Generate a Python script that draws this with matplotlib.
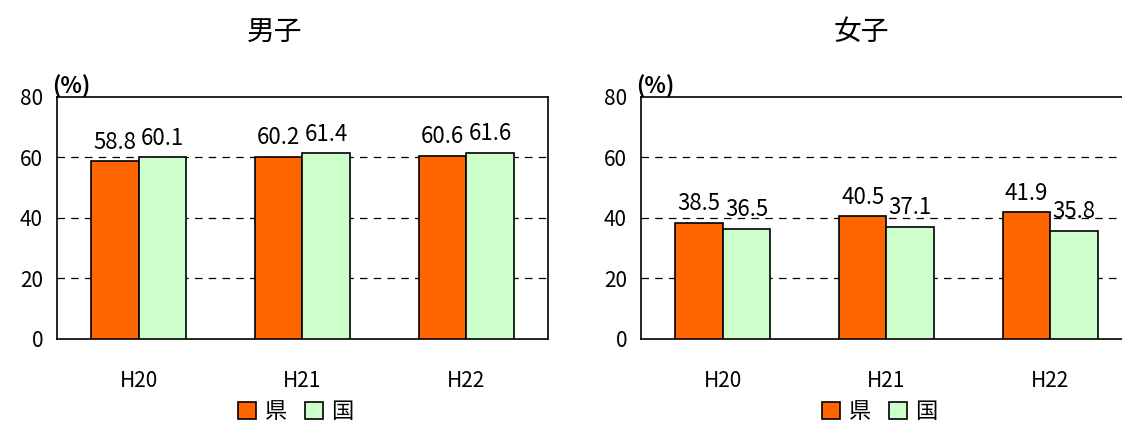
import matplotlib
matplotlib.use("Agg")
import matplotlib.pyplot as plt
import numpy as np
from matplotlib.patches import Patch

plt.rcParams['font.family'] = ['Noto Sans CJK JP', 'DejaVu Sans']

years = ['H20', 'H21', 'H22']
male_pref = [58.8, 60.2, 60.6]
male_nat = [60.1, 61.4, 61.6]
female_pref = [38.5, 40.5, 41.9]
female_nat = [36.5, 37.1, 35.8]
series_names = ['県', '国']
colors = ['#FF6600', '#CCFFCC']

fig = plt.figure(figsize=(11.22, 4.24), dpi=100)

panels = [
    ('男子', male_pref, male_nat, [0.0508, 0.2005, 0.4376, 0.5708], 0.245),
    ('女子', female_pref, female_nat, [0.5713, 0.2005, 0.4376, 0.5708], 0.768),
]

x = np.arange(len(years)) + 0.5
w = 0.29

for title, pref, nat, pos, tx in panels:
    ax = fig.add_axes(pos)
    ax.set_xlim(0, 3)
    ax.set_ylim(0, 80)
    b1 = ax.bar(x - w / 2, pref, w, color=colors[0], edgecolor='black', linewidth=1.2, zorder=3)
    b2 = ax.bar(x + w / 2, nat, w, color=colors[1], edgecolor='black', linewidth=1.2, zorder=3)
    for bars in (b1, b2):
        for b in bars:
            ax.text(b.get_x() + b.get_width() / 2, b.get_height() + 2.5, f'{b.get_height():.1f}',
                    ha='center', va='bottom', fontsize=16)
    ax.set_yticks([0, 20, 40, 60, 80])
    for yv in [20, 40, 60]:
        ax.axhline(yv, color='black', linestyle=(0, (6, 5)), linewidth=0.9, zorder=1)
    ax.set_xticks(x)
    ax.set_xticklabels(years)
    ax.tick_params(axis='both', length=0, labelsize=15)
    ax.tick_params(axis='x', pad=22)
    ax.tick_params(axis='y', pad=10)
    for s in ax.spines.values():
        s.set_color('black')
        s.set_linewidth(1.2)
    ax.text(0.029, 0.995, '(%)', transform=ax.transAxes, ha='center', va='bottom',
            fontsize=16, fontweight='bold')
    fig.text(tx, 0.925, title, ha='center', va='center', fontsize=20)
    handles = [Patch(facecolor=colors[0], edgecolor='black', linewidth=1.2),
               Patch(facecolor=colors[1], edgecolor='black', linewidth=1.2)]
    fig.legend(handles, series_names, loc='center', bbox_to_anchor=(pos[0] + 0.213, 0.03),
               ncol=2, frameon=False, fontsize=16, handlelength=0.8, handleheight=0.8,
               handletextpad=0.4, columnspacing=0.8)

fig.savefig('out.png', dpi=100)
